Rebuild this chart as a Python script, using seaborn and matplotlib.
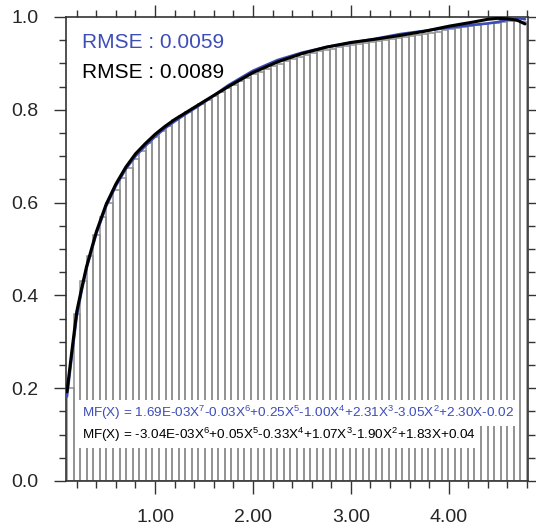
import numpy as np
import pandas as pd
import matplotlib
matplotlib.use('Agg')
import matplotlib.pyplot as plt
import seaborn as sns
from matplotlib.ticker import MultipleLocator, FormatStrFormatter

# bars: 70 bins between 0.1 and 4.8
n_bins = 70
bin_range = (0.1, 4.8)
bar_heights = [0.200, 0.360, 0.430, 0.485, 0.530, 0.568, 0.600, 0.628, 0.652, 0.674,
               0.694, 0.712, 0.728, 0.742, 0.755, 0.766, 0.777, 0.786, 0.795, 0.804,
               0.812, 0.821, 0.830, 0.838, 0.846, 0.854, 0.862, 0.869, 0.876, 0.882,
               0.888, 0.894, 0.899, 0.905, 0.909, 0.914, 0.918, 0.922, 0.926, 0.929,
               0.932, 0.935, 0.938, 0.940, 0.942, 0.944, 0.946, 0.948, 0.950, 0.952,
               0.954, 0.956, 0.958, 0.961, 0.963, 0.966, 0.968, 0.971, 0.973, 0.976,
               0.978, 0.980, 0.982, 0.984, 0.986, 0.988, 0.989, 0.991, 0.992, 0.990]

# fitted curves
curve_x = [0.10, 0.15, 0.20, 0.25, 0.30, 0.40, 0.50, 0.60, 0.70, 0.80, 0.90, 1.00,
           1.10, 1.20, 1.30, 1.50, 1.75, 2.00, 2.25, 2.50, 2.75, 3.00, 3.25, 3.50,
           3.75, 4.00, 4.25, 4.40, 4.50, 4.60, 4.70, 4.78]
blue_y = [0.182, 0.270, 0.355, 0.410, 0.458, 0.533, 0.592, 0.636, 0.672, 0.700, 0.722, 0.742,
          0.760, 0.775, 0.789, 0.816, 0.853, 0.884, 0.907, 0.923, 0.935, 0.944, 0.953, 0.963,
          0.970, 0.977, 0.983, 0.986, 0.989, 0.994, 0.998, 0.995]
black_y = [0.192, 0.280, 0.365, 0.415, 0.462, 0.537, 0.596, 0.640, 0.676, 0.705, 0.727, 0.747,
           0.764, 0.779, 0.792, 0.818, 0.850, 0.880, 0.903, 0.921, 0.935, 0.945, 0.952, 0.960,
           0.969, 0.980, 0.989, 0.995, 0.997, 0.996, 0.993, 0.985]

rmse_blue = 'RMSE : 0.0059'
rmse_black = 'RMSE : 0.0089'
eq_blue = (r'MF(X) = 1.69E-03X$^{7}$-0.03X$^{6}$+0.25X$^{5}$-1.00X$^{4}$'
           r'+2.31X$^{3}$-3.05X$^{2}$+2.30X-0.02')
eq_black = (r'MF(X) = -3.04E-03X$^{6}$+0.05X$^{5}$-0.33X$^{4}$+1.07X$^{3}$'
            r'-1.90X$^{2}$+1.83X+0.04')

blue = '#3d4db7'

sns.set_style('white')
plt.rcParams['font.family'] = ['Liberation Sans', 'DejaVu Sans']
plt.rcParams['mathtext.fontset'] = 'custom'
plt.rcParams['mathtext.rm'] = 'Liberation Sans'
plt.rcParams['mathtext.default'] = 'regular'

fig = plt.figure(figsize=(5.36, 5.30), dpi=100)
ax = fig.add_axes([0.1231, 0.0925, 0.8619, 0.8755])

width = (bin_range[1] - bin_range[0]) / n_bins
centers = bin_range[0] + width * (np.arange(n_bins) + 0.5)
df_bars = pd.DataFrame({'x': centers, 'h': bar_heights})
sns.histplot(data=df_bars, x='x', weights='h', bins=n_bins, binrange=bin_range, fill=False,
             element='bars', color='#8e8e8e', linewidth=1.1, ax=ax, zorder=1)

df_curves = pd.DataFrame({'x': curve_x, 'blue': blue_y, 'black': black_y})
sns.lineplot(data=df_curves, x='x', y='blue', color=blue, linewidth=1.9, ax=ax, zorder=3)
sns.lineplot(data=df_curves, x='x', y='black', color='black', linewidth=2.2, ax=ax, zorder=4)

ax.set_xlim(0.09, 4.81)
ax.set_ylim(0, 1.0)
ax.set_xlabel('')
ax.set_ylabel('')

ax.xaxis.set_major_locator(MultipleLocator(1.0))
ax.xaxis.set_minor_locator(MultipleLocator(0.2))
ax.yaxis.set_major_locator(MultipleLocator(0.2))
ax.yaxis.set_minor_locator(MultipleLocator(0.05))
ax.xaxis.set_major_formatter(FormatStrFormatter('%.2f'))
ax.yaxis.set_major_formatter(FormatStrFormatter('%.1f'))
ax.tick_params(which='both', direction='out', top=True, right=True, bottom=True, left=True,
               color='#333333', width=1.0)
ax.tick_params(which='major', length=9, labelsize=14, pad=11)
ax.tick_params(which='minor', length=5)
for s in ax.spines.values():
    s.set_color('#333333')
    s.set_linewidth(1.2)

ax.text(0.035, 0.946, rmse_blue, transform=ax.transAxes, color=blue, fontsize=15,
        va='center', ha='left', zorder=5)
ax.text(0.035, 0.881, rmse_black, transform=ax.transAxes, color='black', fontsize=15,
        va='center', ha='left', zorder=5)

box = dict(facecolor='white', edgecolor='none', pad=3)
ax.text(0.035, 0.1466, eq_blue, transform=ax.transAxes, color=blue, fontsize=9.7,
        va='center', ha='left', bbox=box, zorder=5)
ax.text(0.035, 0.099, eq_black, transform=ax.transAxes, color='black', fontsize=9.7,
        va='center', ha='left', bbox=box, zorder=5)

fig.savefig('out.png', dpi=100)
